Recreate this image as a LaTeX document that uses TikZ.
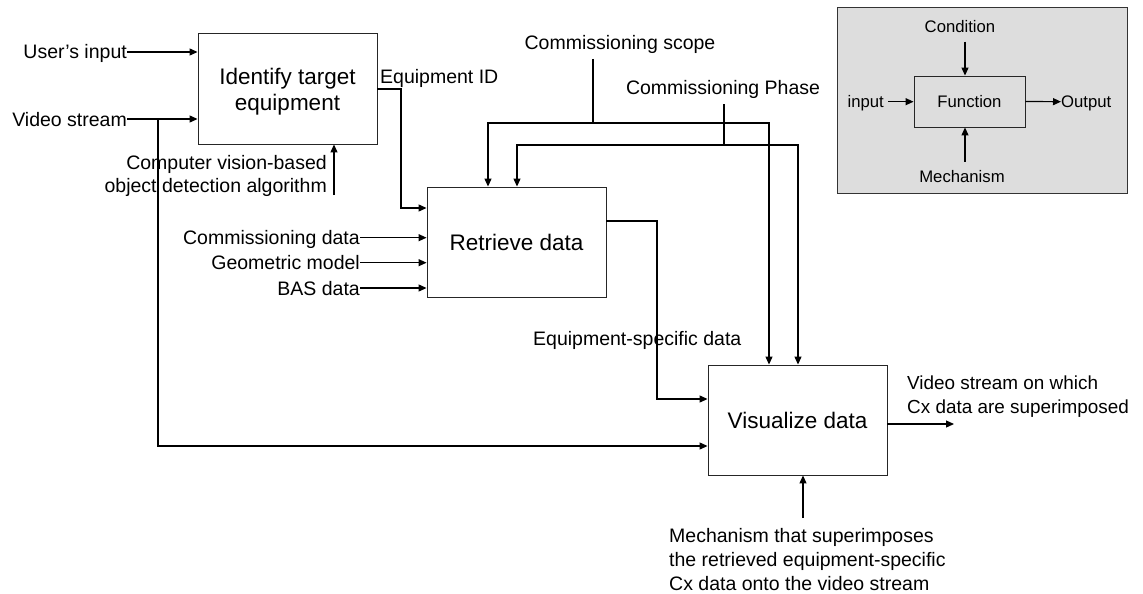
\documentclass[tikz,border=0pt]{standalone}
\usepackage{fontspec}
\setmainfont{Liberation Sans}
\usetikzlibrary{arrows.meta}
\definecolor{legendgray}{RGB}{221,221,221}
\begin{document}
\begin{tikzpicture}[x=1pt,y=-1pt,
  conn/.style={line width=1.2pt,black},
  arr/.style={conn,-{Triangle[length=8pt,width=7pt]}},
  fnbox/.style={draw=black!85,line width=0.9pt,minimum width=179pt,minimum height=110pt,inner sep=0pt,
     font=\fontsize{22.5}{26}\selectfont,align=center},
  lab/.style={inner sep=0pt,font=\fontsize{19.5}{23.5}\selectfont,text height=14pt,text depth=0pt},
  mlab/.style={inner sep=0pt,font=\fontsize{19.5}{24}\selectfont},
  slab/.style={inner sep=0pt,font=\fontsize{16.7}{20}\selectfont,text height=12pt,text depth=0pt}]
\useasboundingbox (0,0) rectangle (1143,594);

% legend
\node[draw=black!80,line width=0.9pt,fill=legendgray,minimum width=290pt,minimum height=186pt,inner sep=0pt] (lg) at (982,100) {};
\node[slab,draw=black!85,line width=0.9pt,fill=legendgray,minimum width=111pt,minimum height=51pt] (fn) at (969.5,101.5) {Function};
\node[slab,anchor=base] (lcond) at (960,32.3) {Condition};
\node[slab,anchor=base] (lmech) at (962,182.7) {Mechanism};
\node[slab,anchor=east] (lin) at (884,101.7) {input};
\node[slab,anchor=west] (lout) at (1061,101.7) {Output};
\coordinate (lcs) at (965,41.7);
\coordinate (lms) at (965,161.7);
\coordinate (lis) at (888,101.7);
\draw[arr] (lcs) -- (lcs |- fn.north);
\draw[arr] (lms) -- (lms |- fn.south);
\draw[arr] (lis) -- (lis -| fn.west);
\draw[arr] (fn.east) -- (lout.west);

% function boxes
\node[fnbox,minimum height=111pt] (b1) at (287.5,88.5) {\rule{0pt}{23.4pt}Identify target\\equipment};
\node[fnbox] (b2) at (516.5,242) {Retrieve data};
\node[fnbox] (b3) at (797.5,420) {Visualize data};

% labels
\node[lab,anchor=east] (uin) at (127,52) {User’s input};
\node[lab,anchor=east] (vs) at (127,119) {Video stream};
\node[mlab,anchor=north east,align=right,font=\fontsize{19.5}{22.5}\selectfont] (cv) at (327,155.3) {Computer vision-based\\object detection algorithm};
\node[lab,anchor=base west] (eid) at (380,84) {Equipment ID};
\node[lab,anchor=base] (scope) at (620,49.3) {Commissioning scope};
\node[lab,anchor=base] (phase) at (723,95) {Commissioning Phase};
\node[lab,anchor=east] (cd) at (360,237.7) {Commissioning data};
\node[lab,anchor=east] (gm) at (360,262.7) {Geometric model};
\node[lab,anchor=east] (bas) at (360,288) {BAS data};
\node[lab,anchor=base west] (esd) at (533,345) {Equipment-specific data};
\node[mlab,anchor=north west,align=left,font=\fontsize{18.9}{24}\selectfont] (vout) at (907,375.5) {Video stream on which\\Cx data are superimposed};
\node[mlab,anchor=north west,align=left] (mech) at (669,527.7) {Mechanism that superimposes\\the retrieved equipment-specific\\Cx data onto the video stream};

% connectors
\draw[arr] (uin.east) -- (uin.east -| b1.west);
\draw[arr] (vs.east) -- (vs.east -| b1.west);
\coordinate (vsj) at (158,119);
\draw[arr] (vsj) |- (b3.west |- 0,446);
\coordinate (cvs) at (334,195);
\draw[arr] (cvs) -- (cvs |- b1.south);
\draw[arr] (b1.east |- 0,89) -- (401,89) |- (b2.west |- 0,208);
\draw[arr] (cd.east) -- (cd.east -| b2.west);
\draw[arr] (gm.east) -- (gm.east -| b2.west);
\draw[arr] (bas.east) -- (bas.east -| b2.west);
\draw[arr] (b2.east |- 0,221) -| (657,399) -- (b3.west |- 0,399);
\coordinate (scs) at (593,59);
\coordinate (scj) at (593,123);
\draw[conn] (scs) -- (scj);
\draw[arr] (scj) -| (b2.north -| 488,0);
\draw[arr] (scj) -| (b3.north -| 769,0);
\coordinate (phs) at (724,104);
\coordinate (phj) at (724,145);
\draw[conn] (phs) -- (phj);
\draw[arr] (phj) -| (b2.north -| 517,0);
\draw[arr] (phj) -| (b3.north -| 798,0);
\coordinate (voe) at (954,424);
\draw[arr] (b3.east |- voe) -- (voe);
\coordinate (mcs) at (803,518);
\draw[arr] (mcs) -- (mcs |- b3.south);
\end{tikzpicture}
\end{document}
